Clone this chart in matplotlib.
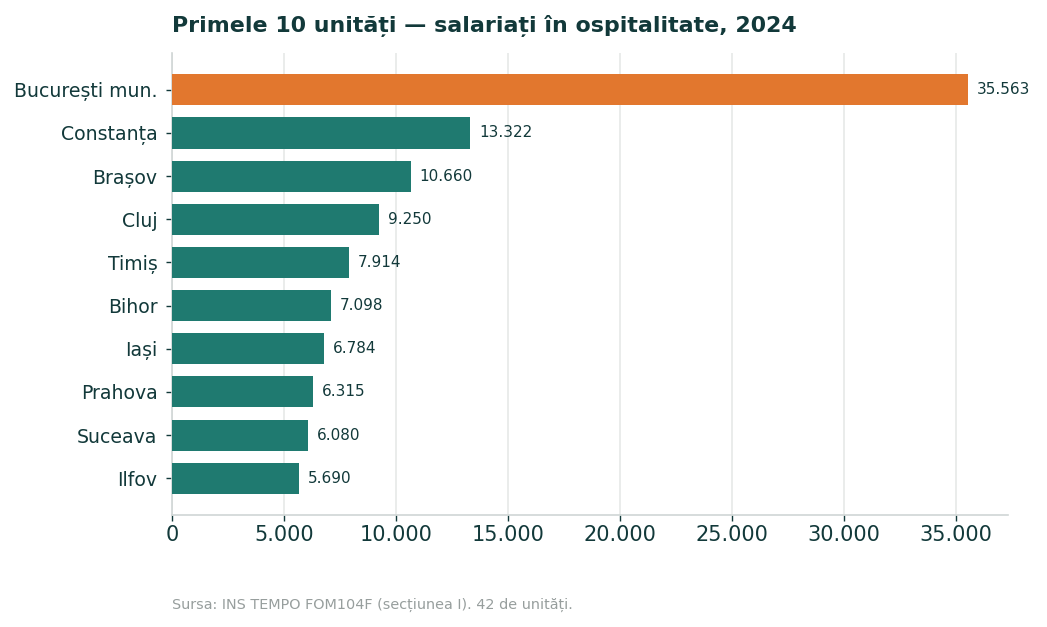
import matplotlib
matplotlib.use("Agg")
import matplotlib.pyplot as plt
from matplotlib.ticker import FuncFormatter

categories = ["București mun.", "Constanța", "Brașov", "Cluj", "Timiș",
              "Bihor", "Iași", "Prahova", "Suceava", "Ilfov"]
values = [35563, 13322, 10660, 9250, 7914, 7098, 6784, 6315, 6080, 5690]
highlight = "București mun."

TEXT = "#12393a"
ORANGE = "#e2772e"
TEAL = "#1f7a70"

def fmt(v):
    return f"{int(round(v)):,}".replace(",", ".")

fig = plt.figure(figsize=(10.47, 6.27), dpi=100)
ax = fig.add_axes([0.1643, 0.179, 0.7985, 0.736])

ypos = list(range(len(categories)))[::-1]
colors = [ORANGE if c == highlight else TEAL for c in categories]
ax.barh(ypos, values, height=0.72, color=colors, zorder=3)
ax.set_yticks(ypos)
ax.set_yticklabels(categories, fontsize=13.6, color=TEXT)
ax.set_xlim(0, max(values) * 1.05)
ax.xaxis.set_major_formatter(FuncFormatter(lambda v, p: fmt(v)))
ax.tick_params(axis="x", labelsize=15, colors=TEXT, length=4, width=1)
ax.tick_params(axis="y", colors=TEXT, length=4, width=1, pad=6.5)

for y, v in zip(ypos, values):
    ax.text(v + max(values) * 0.011, y, fmt(v), va="center", ha="left",
            fontsize=11, color=TEXT)

ax.grid(axis="x", color="#e6e9e8", linewidth=1.2, zorder=0)
ax.set_axisbelow(True)
for s in ["top", "right"]:
    ax.spines[s].set_visible(False)
for s in ["left", "bottom"]:
    ax.spines[s].set_color("#d0d6d5")
    ax.spines[s].set_linewidth(1.2)

fig.text(0.1643, 0.958, "Primele 10 unități — salariați în ospitalitate, 2024",
         fontsize=15.9, fontweight="bold", color=TEXT, ha="left", va="center")
fig.text(0.1643, 0.035, "Sursa: INS TEMPO FOM104F (secțiunea I). 42 de unități.",
         fontsize=10.35, color="#979e9d", ha="left", va="center")

fig.savefig("out.png", dpi=100)
